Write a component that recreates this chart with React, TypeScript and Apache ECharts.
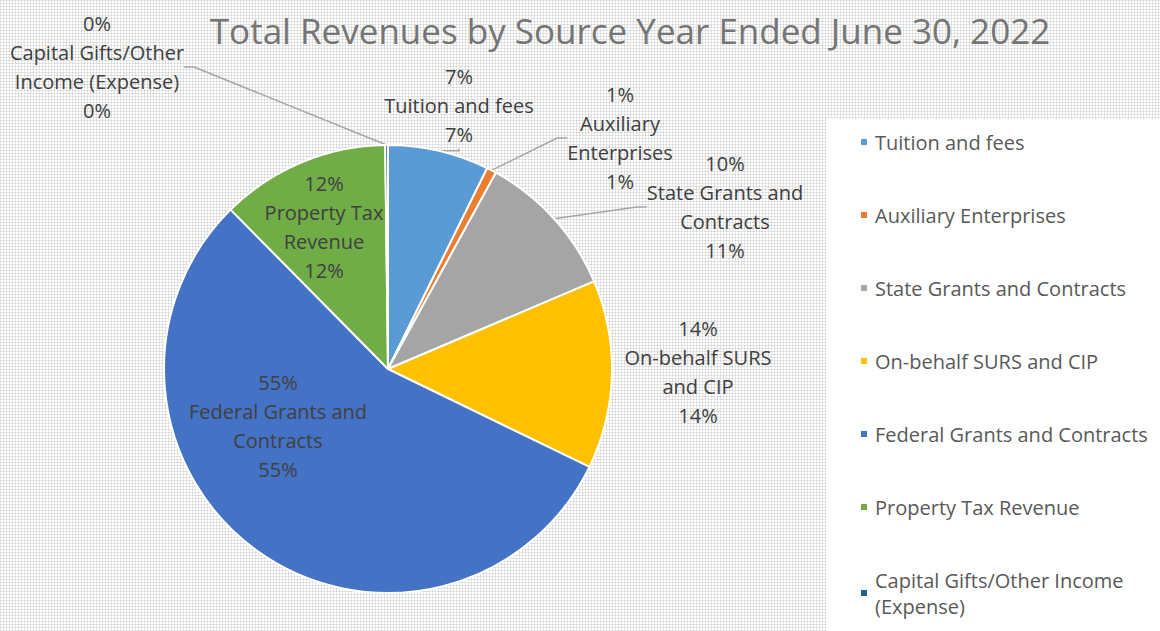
import React, { useEffect, useRef } from "react";
import * as echarts from "echarts";

const categories = [
  "Tuition and fees",
  "Auxiliary Enterprises",
  "State Grants and Contracts",
  "On-behalf SURS and CIP",
  "Federal Grants and Contracts",
  "Property Tax Revenue",
  "Capital Gifts/Other Income (Expense)",
];
// wrapped label names as shown next to the slices
const labelNames = [
  "Tuition and fees",
  "Auxiliary\nEnterprises",
  "State Grants and\nContracts",
  "On-behalf SURS\nand CIP",
  "Federal Grants and\nContracts",
  "Property Tax\nRevenue",
  "Capital Gifts/Other\nIncome (Expense)",
];
// share of revenue (%) used to size slices
const shares = [7.3, 0.7, 10.6, 13.6, 55.4, 12.2, 0.2];
// reported value shown as first line of each label (%)
const reportedValues = [7, 1, 10, 14, 55, 12, 0];
const colors = ["#5B9BD5", "#ED7D31", "#A5A5A5", "#FFC000", "#4472C4", "#70AD47", "#255E91"];

const TEXT_FONT = "'Open Sans', 'Noto Sans', sans-serif";

export default function App() {
  const ref = useRef<HTMLDivElement>(null);
  useEffect(() => {
    if (!ref.current) return;
    const chart = echarts.init(ref.current, null, { renderer: "svg" });

    const tile = document.createElement("canvas");
    tile.width = 3;
    tile.height = 3;
    const ctx = tile.getContext("2d")!;
    ctx.fillStyle = "#ffffff";
    ctx.fillRect(0, 0, 3, 3);
    ctx.fillStyle = "#e6e6e6";
    ctx.fillRect(0, 0, 3, 1);
    ctx.fillRect(0, 0, 1, 3);
    ctx.fillStyle = "#d4d4d4";
    ctx.fillRect(0, 0, 1, 1);
    const patternUrl = tile.toDataURL();

    // label anchor positions (center/middle)
    const labelPos: [number, number][] = [
      [459, 105],
      [620, 138],
      [725, 207],
      [698, 372],
      [278, 426],
      [324, 227],
      [97, 67],
    ];
    const noLine = new Set([3, 4, 5]);

    chart.setOption({
      animation: false,
      title: {
        text: "Total Revenues by Source Year Ended June 30, 2022",
        left: 625,
        top: 8,
        textAlign: "center",
        textStyle: {
          fontFamily: TEXT_FONT,
          fontSize: 35,
          fontWeight: "normal",
          color: "#757575",
        },
      },
      graphic: [
        {
          type: "rect",
          z: -10,
          silent: true,
          shape: { x: 0, y: 0, width: 1160, height: 631 },
          style: {
            fill: { image: patternUrl, repeat: "repeat", imageWidth: 3, imageHeight: 3 } as any,
          },
        },
        {
          type: "rect",
          z: -5,
          silent: true,
          shape: { x: 826, y: 118, width: 334, height: 513 },
          style: { fill: "#ffffff" },
        },
      ],
      legend: {
        orient: "vertical",
        left: 859,
        top: 129,
        padding: 0,
        height: 620,
        itemWidth: 8,
        itemHeight: 8,
        itemGap: 47,
        icon: "rect",
        data: categories,
        formatter: (name: string) =>
          name === "Capital Gifts/Other Income (Expense)" ? "Capital Gifts/Other Income\n(Expense)" : name,
        textStyle: {
          fontFamily: TEXT_FONT,
          fontSize: 20,
          color: "#595959",
          lineHeight: 26,
          padding: [0, 0, 0, 2],
        },
      },
      series: [
        {
          type: "pie",
          center: [388, 369],
          radius: 224,
          startAngle: 90,
          clockwise: true,
          avoidLabelOverlap: false,
          percentPrecision: 2,
          itemStyle: { borderColor: "#ffffff", borderWidth: 2 },
          label: {
            show: true,
            position: "outside",
            fontFamily: TEXT_FONT,
            fontSize: 20,
            lineHeight: 29,
            color: "#404040",
            align: "center",
            formatter: (p: any) =>
              `${reportedValues[p.dataIndex]}%\n${labelNames[p.dataIndex]}\n${Math.round(p.percent)}%`,
          },
          labelLine: { show: true, lineStyle: { color: "#a6a6a6", width: 1.5 }, length: 10, length2: 10 },
          labelLayout: (params: any) => {
            const [x, y] = labelPos[params.dataIndex];
            return { x, y, align: "center", verticalAlign: "middle" };
          },
          emphasis: { disabled: true },
          data: categories.map((name, i) => ({
            name,
            value: shares[i],
            itemStyle: { color: colors[i] },
            labelLine: { show: !noLine.has(i) },
          })),
        },
      ],
    });
    return () => chart.dispose();
  }, []);
  return (
    <div
      ref={ref}
      style={{ position: "absolute", left: 0, top: 0, width: 1160, height: 631 }}
    />
  );
}
